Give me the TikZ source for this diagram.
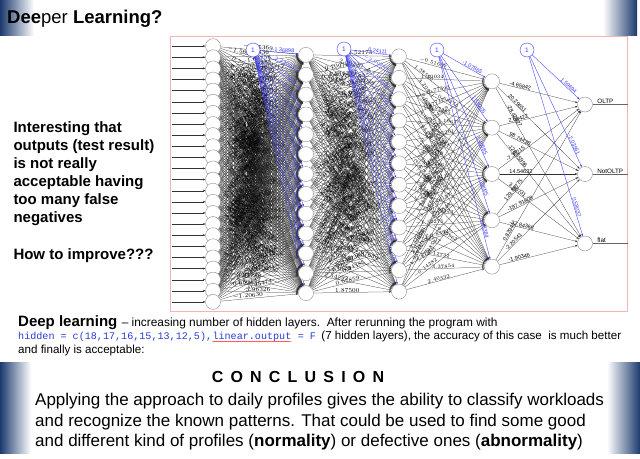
\documentclass[tikz,border=0pt]{standalone}
\usepackage{fontspec}
\setmainfont{Liberation Sans}
\setmonofont{Liberation Mono}
\usetikzlibrary{arrows.meta,decorations.pathmorphing}
\definecolor{navy}{RGB}{28,58,110}
\definecolor{pinkb}{RGB}{244,180,180}
\definecolor{codeblue}{RGB}{40,60,215}
\definecolor{biasblue}{RGB}{60,60,250}
\pgfdeclarelayer{background}
\pgfsetlayers{background,main}
\begin{document}
\begin{tikzpicture}[x=1pt,y=-1pt,
  neuron/.style={circle,draw=black!45,line width=0.4pt,fill=white,minimum size=15pt,inner sep=0pt},
  biasnode/.style={circle,draw=biasblue,line width=0.4pt,fill=white,minimum size=14pt,inner sep=0pt,text=biasblue,font=\fontsize{6.5}{6.5}\selectfont},
  conn/.style={draw=black!80,line width=0.25pt,-{Stealth[length=2.4pt,width=2pt]}},
  bconn/.style={draw=biasblue,line width=0.35pt,-{Stealth[length=2.4pt,width=2pt]}},
  wlab/.style={sloped,anchor=south west,inner sep=0.3pt,font=\fontsize{5.5}{5.5}\selectfont,text=black},
  dlab/.style={sloped,anchor=south west,inner sep=0.2pt,font=\fontsize{6}{6}\selectfont,text=black},
  blab/.style={sloped,anchor=south east,inner sep=0.3pt,pos=0.9,font=\fontsize{5.5}{5.5}\selectfont,text=biasblue},
  txt/.style={anchor=base west,inner sep=0pt},
  outlab/.style={anchor=south west,inner sep=0.5pt,font=\fontsize{6.3}{6.3}\selectfont}
]
\useasboundingbox (0,0) rectangle (640,458);
\pgfmathsetseed{4242}

% ---- network nodes ----
\foreach \k in {1,...,24} \node[neuron] (I\k) at (213,{35+\k*278/25}) {};
\foreach \k in {1,...,13} \node[neuron] (A\k) at (306,{35+\k*278/14}) {};
\foreach \k in {1,...,12} \node[neuron] (B\k) at (399,{35+\k*278/13}) {};
\foreach \k in {1,...,5}  \node[neuron] (C\k) at (492,{35+\k*278/6}) {};
\foreach \k in {1,...,3}  \node[neuron] (O\k) at (585,{35+\k*278/4}) {};
\node[biasnode] (Z1) at (253,50) {1};
\node[biasnode] (Z2) at (344,49) {1};
\node[biasnode] (Z3) at (437,50) {1};
\node[biasnode] (Z4) at (527,50) {1};

% ---- outputs ----
\node[outlab] (t1) at ([xshift=4pt]O1.east) {OLTP};
\node[outlab] (t2) at ([xshift=4pt]O2.east) {NotOLTP};
\node[outlab] (t3) at ([xshift=4pt]O3.east) {flat};

% ---- texts ----
\node[txt,font=\fontsize{18.5}{20}\selectfont] (title) at (7,23) {\textbf{Dee}per \textbf{Learning?}};
\node[txt,font=\bfseries\fontsize{15}{18}\selectfont] (q1) at (13.3,132.3) {Interesting that};
\node[txt,font=\bfseries\fontsize{15}{18}\selectfont] (q2) at (13.3,150.4) {outputs (test result)};
\node[txt,font=\bfseries\fontsize{15}{18}\selectfont] (q3) at (13.3,168.5) {is not really};
\node[txt,font=\bfseries\fontsize{15}{18}\selectfont] (q4) at (13.3,186.6) {acceptable having};
\node[txt,font=\bfseries\fontsize{15}{18}\selectfont] (q5) at (13.3,204.7) {too many false};
\node[txt,font=\bfseries\fontsize{15}{18}\selectfont] (q6) at (13.3,222.8) {negatives};
\node[txt,font=\bfseries\fontsize{15}{18}\selectfont] (q7) at (13.3,259) {How to improve???};

\node[txt,font=\bfseries\fontsize{15}{15}\selectfont] (dl) at (18,326) {Deep learning};
\node[txt,font=\fontsize{11.9}{13}\selectfont] (dl2) at ([xshift=4pt]dl.base east) {– increasing number of hidden layers.\ \ After rerunning the program with};
\node[txt,font=\ttfamily\fontsize{10.1}{11}\selectfont,text=codeblue] (c1) at (18,339.5) {hidden = c(18,17,16,15,13,12,5),\ };
\node[txt,font=\ttfamily\fontsize{10.1}{11}\selectfont,text=codeblue] (c2) at (c1.base east) {linear.output};
\node[txt,font=\ttfamily\fontsize{10.1}{11}\selectfont,text=codeblue] (c3) at (c2.base east) {\ = F};
\node[txt,font=\fontsize{11.6}{13}\selectfont] (c4) at ([xshift=5pt]c3.base east) {(7 hidden layers), the accuracy of this case\ \ is much better};
\node[txt,font=\fontsize{11.6}{13}\selectfont] (c5) at (18,353) {and finally is acceptable:};
\draw[red!80,line width=0.4pt,decorate,decoration={snake,amplitude=0.45pt,segment length=2pt}] ([yshift=-2pt]c2.base west) -- ([yshift=-2pt]c2.base east);

\node[anchor=base,inner sep=0pt,font=\bfseries\fontsize{16}{16}\selectfont\addfontfeature{LetterSpace=45}] (concl) at (298,382) {CONCLUSION};
\node[txt,font=\fontsize{17}{20}\selectfont] (p1) at (35,405) {Applying the approach to daily profiles gives the ability to classify workloads};
\node[txt,font=\fontsize{17}{20}\selectfont] (p2) at (35,426) {and recognize the known patterns. That could be used to find some good};
\node[txt,font=\fontsize{17}{20}\selectfont] (p3) at (35,446) {and different kind of profiles (\textbf{normality}) or defective ones (\textbf{abnormality})};

\begin{pgfonlayer}{background}
  \fill[white] (0,0) rectangle (640,458);
  \shade[left color=navy,right color=white] (0,0) rectangle (34,35);
  \shade[left color=white,right color=navy] (603,0) rectangle (637,35);
  \shade[left color=navy,right color=white] (0,362) rectangle (31,453);
  \shade[left color=white,right color=navy] (607,362) rectangle (640,453);
  \draw[pinkb,line width=0.9pt] (170,36) rectangle (627,311);

  % input arrows
  \foreach \k in {1,...,24} {
    \coordinate (in\k) at (172,{35+\k*278/25});
    \draw[conn] (in\k) -- (I\k);
  }
  % layer 1 -> 2
  \foreach \i in {1,...,24} \foreach \j in {1,...,13} {
    \pgfmathsetmacro\w{(rnd-0.5)*8}
    \pgfmathsetmacro\p{0.08+0.36*rnd}
    \draw[conn] (I\i) -- (A\j) node[dlab,pos=\p] {\pgfmathprintnumber[fixed,fixed zerofill,precision=5]{\w}};
  }
  % layer 2 -> 3
  \foreach \i in {1,...,13} \foreach \j in {1,...,12} {
    \pgfmathsetmacro\w{(rnd-0.5)*8}
    \pgfmathsetmacro\p{0.08+0.4*rnd}
    \draw[conn] (A\i) -- (B\j) node[dlab,pos=\p] {\pgfmathprintnumber[fixed,fixed zerofill,precision=5]{\w}};
  }
  % layer 3 -> 4
  \foreach \i in {1,...,12} \foreach \j in {1,...,5} {
    \pgfmathsetmacro\w{(rnd-0.5)*8}
    \pgfmathsetmacro\p{0.09+0.25*rnd}
    \draw[conn] (B\i) -- (C\j) node[wlab,pos=\p] {\pgfmathprintnumber[fixed,fixed zerofill,precision=5]{\w}};
  }
  % layer 4 -> out
  \foreach \s/\t/\lab in {1/1/-4.65842, 1/2/20.29651, 1/3/-28.42427, 2/1/2.68422, 2/2/98.74428, 2/3/-126.55996, 3/1/-7.39215, 3/2/14.54632, 3/3/3.80731, 4/1/129.81775, 4/2/-197.91608, 4/3/-37.84368, 5/1/0.82941, 5/2/-2.20541, 5/3/-1.90346}
    \draw[conn] (C\s) -- (O\t) node[wlab,pos=0.12] {\lab};
  % output lines
  \foreach \k in {1,2,3} {
    \coordinate (e\k) at ([xshift=35pt]O\k.east);
    \draw[black!60,line width=0.4pt] (O\k) -- (e\k);
  }
  % bias connections
  \draw[bconn] (Z1) -- (A1) node[blab] {-1.36898};
  \foreach \j in {2,...,13} {
    \pgfmathsetmacro\w{(rnd-0.5)*6}
    \draw[bconn] (Z1) -- (A\j) node[blab] {\pgfmathprintnumber[fixed,fixed zerofill,precision=5]{\w}};
  }
  \draw[bconn] (Z2) -- (B1) node[blab] {0.24111};
  \foreach \j in {2,...,12} {
    \pgfmathsetmacro\w{(rnd-0.5)*6}
    \draw[bconn] (Z2) -- (B\j) node[blab] {\pgfmathprintnumber[fixed,fixed zerofill,precision=5]{\w}};
  }
  \foreach \j/\lab in {1/-1.07865, 2/1.58205, 3/1.40585, 4/1.28005, 5/1.73384}
    \draw[bconn] (Z3) -- (C\j) node[blab] {\lab};
  \foreach \j/\lab in {1/1.59694, 2/-2.03561, 3/0.58037}
    \draw[bconn] (Z4) -- (O\j) node[blab] {\lab};
\end{pgfonlayer}
\end{tikzpicture}
\end{document}
